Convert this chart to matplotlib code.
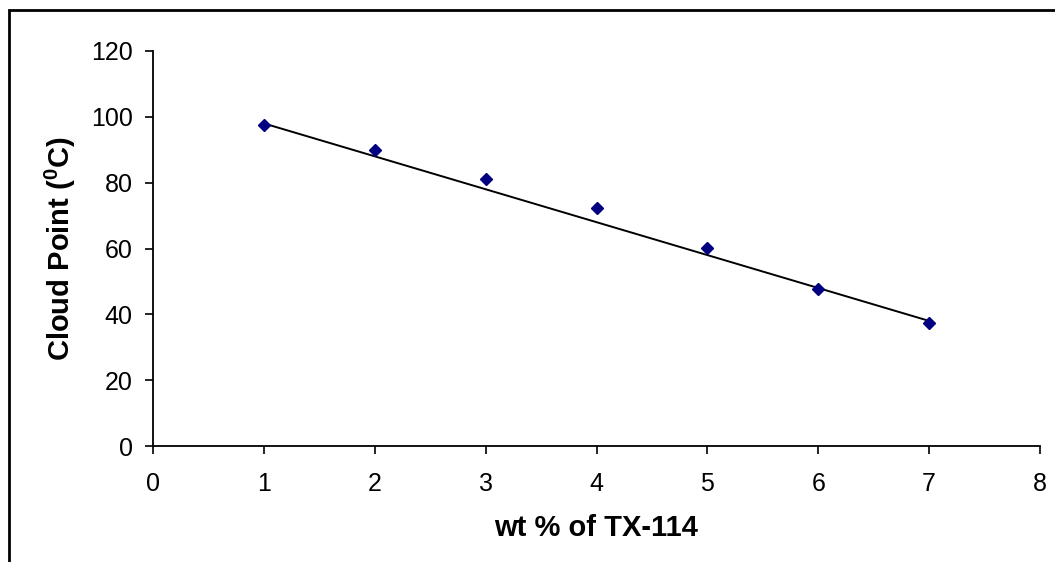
import numpy as np
import matplotlib
matplotlib.use('Agg')
import matplotlib.pyplot as plt
from matplotlib.patches import Rectangle

# data
wt = [1, 2, 3, 4, 5, 6, 7]
cloud_point = [97.4, 89.8, 81.1, 72.2, 60.1, 47.7, 37.3]
trend_x = [1, 7]
trend_y = [98.0, 38.0]
xticks = [0, 1, 2, 3, 4, 5, 6, 7, 8]
yticks = [0, 20, 40, 60, 80, 100, 120]

plt.rcParams['font.family'] = ['Liberation Sans', 'DejaVu Sans']
plt.rcParams['mathtext.fontset'] = 'custom'
plt.rcParams['mathtext.rm'] = 'Liberation Sans'
plt.rcParams['mathtext.bf'] = 'Liberation Sans:bold'

W, H = 1055, 562
fig = plt.figure(figsize=(W / 100, H / 100), dpi=100)
ax = fig.add_axes([153 / W, 1 - 446 / H, (1040 - 153) / W, (446 - 51) / H])

ax.plot(trend_x, trend_y, color='black', lw=1.4, zorder=2)
ax.plot(wt, cloud_point, linestyle='none', marker='D', markersize=6.5,
        color='#000080', zorder=3)

ax.set_xlim(0, 8)
ax.set_ylim(0, 120)
ax.set_xticks(xticks)
ax.set_yticks(yticks)
ax.tick_params(axis='both', direction='out', length=5.5, width=1.2,
               labelsize=18, colors='black')
ax.tick_params(axis='x', pad=13)
ax.tick_params(axis='y', pad=9)

for s in ['top', 'right']:
    ax.spines[s].set_visible(False)
for s in ['left', 'bottom']:
    ax.spines[s].set_linewidth(1.3)
    ax.spines[s].set_color('black')

ax.set_xlabel('wt % of TX-114', fontsize=21, fontweight='bold', labelpad=13)
ax.set_ylabel(r'Cloud Point ($\mathbf{^{0}}$C)', fontsize=21,
              fontweight='bold', labelpad=9)

# outer chart border (only left and top visible in the crop)
fig.patches.append(Rectangle((8.5 / W, -0.2), 1.5, 1.2 - 9.5 / H,
                             transform=fig.transFigure, fill=False,
                             edgecolor='black', lw=2.0))

fig.savefig('out.png', dpi=100)
